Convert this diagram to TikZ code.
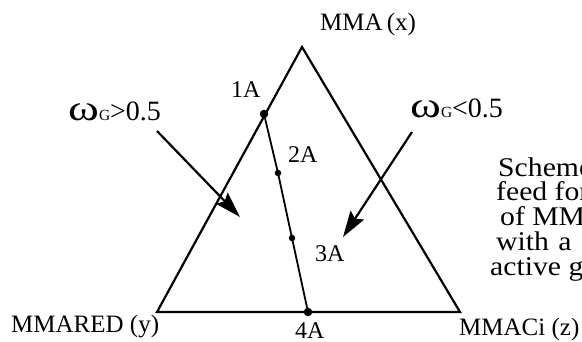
\documentclass[tikz,border=0pt]{standalone}
\usepackage{fontspec}
\setmainfont{Liberation Serif}
\newfontfamily\widefont[FakeStretch=1.1]{Liberation Serif}
\usetikzlibrary{arrows.meta}
\tikzset{
  lbl/.style={inner sep=0pt, anchor=base west, font=\fontsize{24}{24}\selectfont},
  biglbl/.style={inner sep=0pt, anchor=base west, font=\fontsize{25}{25}\selectfont},
  wlbl/.style={inner sep=0pt, anchor=base west, font=\fontsize{28}{28}\selectfont},
  txt/.style={inner sep=0pt, anchor=base west, font=\widefont\fontsize{27}{27}\selectfont},
  bigdot/.style={circle, fill=black, inner sep=0pt, minimum size=8.5pt},
  smalldot/.style={circle, fill=black, inner sep=0pt, minimum size=6.5pt},
  edge/.style={line width=2.2pt, line join=miter},
  tie/.style={line width=1.8pt},
  pointer/.style={line width=2.2pt, -{Stealth[length=26pt, width=16pt, inset=4pt]}}
}
\newcommand{\wsym}{{\fontsize{36}{36}\selectfont\scalebox{1.3}[1]{ω}}}
\newcommand{\gsub}{{\fontsize{15.5}{15.5}\selectfont G}}
\begin{document}
\begin{tikzpicture}[x=1pt, y=-1pt]
\useasboundingbox (0,0) rectangle (582,342);
\clip (0,0) rectangle (582,342);
% triangle vertices
\coordinate (A) at (302,47);
\coordinate (L) at (157,312);
\coordinate (R) at (460,312);
\draw[edge] (A) -- (L) -- (R) -- cycle;
% points
\node[bigdot] (p1) at (264,114) {};
\node[smalldot] (p2) at (278,173) {};
\node[smalldot] (p3) at (292,238) {};
\node[bigdot] (p4) at (308,312) {};
\draw[tie] (p1.center) -- (p2.center) -- (p3.center) -- (p4.center);
% point labels
\node[lbl] (l1) at (231,98) {1A};
\node[lbl] (l2) at (288,163) {2A};
\node[lbl] (l3) at (315,262) {3A};
\node[lbl] (l4) at (295,338) {4A};
% vertex labels
\node[biglbl] (tx) at (320,31) {MMA\,(x)};
\node[biglbl] (ty) at (11,333) {MMARED (y)};
\node[biglbl] (tz) at (459,335) {MMACi (z)};
% omega labels
\node[wlbl] (wg) at (68,121) {\wsym\gsub{\fontsize{28}{28}\selectfont >}0.5};
\node[wlbl] (wl) at (410,118) {\wsym\gsub{\fontsize{28}{28}\selectfont <}0.5};
% arrows
\coordinate (sa) at (157,131);
\coordinate (ea) at (240,217);
\coordinate (sb) at (412,132);
\coordinate (eb) at (343,237);
\draw[pointer] (sa) -- (ea);
\draw[pointer] (sb) -- (eb);
% side text (cut by the picture edge)
\node[txt] (c1) at (498,177) {Scheme};
\node[txt] (c2) at (496,201) {feed for};
\node[txt] (c3) at (500,226) {of MMA};
\node[txt] (c4) at (496,251) {with\hspace{2pt} a};
\node[txt] (c5) at (490,276) {active g};
\end{tikzpicture}
\end{document}
